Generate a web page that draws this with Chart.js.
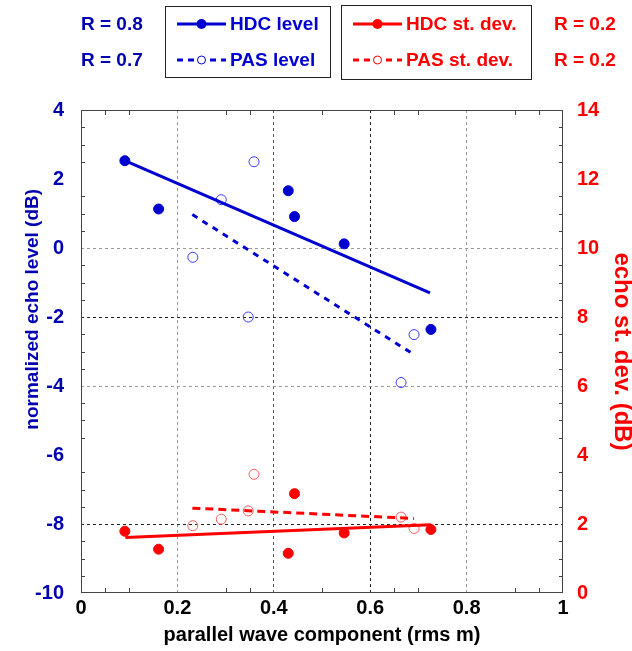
<!DOCTYPE html>
<html>
<head>
<meta charset="utf-8">
<script src="https://cdn.jsdelivr.net/npm/chart.js@4.4.1/dist/chart.umd.min.js"></script>
<style>
  html, body { margin: 0; padding: 0; background: #fff; }
  #wrap { width: 632px; height: 651px; }
</style>
</head>
<body>
<div id="wrap"><canvas id="chart" width="632" height="651"></canvas></div>
<script>
// HDC measurements
const hdcX = [0.091, 0.161, 0.430, 0.443, 0.546, 0.726];
const hdcLevel = [2.53, 1.13, 1.66, 0.91, 0.12, -2.36];
const hdcStdDev = [1.79, 1.27, 1.15, 2.88, 1.74, 1.84];

// PAS measurements
const pasX = [0.359, 0.291, 0.232, 0.347, 0.691, 0.664];
const pasLevel = [2.50, 1.40, -0.27, -2.00, -2.51, -3.90];
const pasStdDev = [3.44, 2.14, 1.95, 2.38, 1.87, 2.20];

// regression line end points
const hdcLevelFitX = [0.091, 0.724];
const hdcLevelFitY = [2.53, -1.30];
const pasLevelFitX = [0.231, 0.691];
const pasLevelFitY = [0.97, -3.09];
const hdcSdFitX = [0.092, 0.726];
const hdcSdFitY = [1.61, 1.98];
const pasSdFitX = [0.231, 0.691];
const pasSdFitY = [2.46, 2.16];

// legend / correlation labels
const levelLabels = ['HDC level', 'PAS level'];
const sdLabels = ['HDC st. dev.', 'PAS st. dev.'];
const levelR = ['R = 0.8', 'R = 0.7'];
const sdR = ['R = 0.2', 'R = 0.2'];

const BLUE = '#0000d0';
const RED = '#ff0000';
const FONT = "'Liberation Sans', Arial, sans-serif";

const pts = (xs, ys) => xs.map((x, i) => ({ x: x, y: ys[i] }));

function lineSet(xs, ys, color, dash, axis) {
    return {
        data: pts(xs, ys), yAxisID: axis, showLine: true,
        borderColor: color, borderWidth: 3, borderDash: dash,
        pointRadius: 0, fill: false
    };
}

function markerSet(xs, ys, color, filled, axis) {
    return {
        data: pts(xs, ys), yAxisID: axis, showLine: false,
        pointRadius: 5, pointBorderWidth: 1,
        pointBackgroundColor: filled ? color : 'rgba(0,0,0,0)',
        pointBorderColor: filled ? color : (color === BLUE ? '#3a3aff' : '#ff5a5a'),
        pointHoverRadius: 5
    };
}

// gridline colour per value; other values get no line
function xGrid(ctx) {
    const v = Math.round(ctx.tick.value * 10) / 10;
    if (v === 0.6) return '#222';
    if (v === 0.4) return '#555';
    if (v === 0.2 || v === 0.8) return '#999';
    return 'rgba(0,0,0,0)';
}
function yGrid(ctx) {
    const v = ctx.tick.value;
    if (v === -2 || v === -8) return '#222';
    if (v === 0 || v === -4) return '#999';
    return 'rgba(0,0,0,0)';
}

const frame = {
    id: 'frame',
    afterDraw(chart) {
        const c = chart.ctx;
        const a = chart.chartArea;
        const sx = chart.scales.x, sy = chart.scales.y;
        c.save();
        c.strokeStyle = '#444';
        c.lineWidth = 1;
        c.strokeRect(a.left + 0.5, a.top + 0.5, a.right - a.left - 1, a.bottom - a.top - 1);

        // inward minor ticks
        c.beginPath();
        for (let v = -9.5; v < 4; v += 0.5) {
            if (Math.abs(v % 2) < 0.01) continue;
            const py = Math.round(sy.getPixelForValue(v)) + 0.5;
            c.moveTo(a.left, py); c.lineTo(a.left + 4, py);
            c.moveTo(a.right, py); c.lineTo(a.right - 4, py);
        }
        for (let v = 0.05; v < 1; v += 0.05) {
            const r = Math.round(v * 100);
            if (r % 20 === 0) continue;
            if (r % 10 !== 0 && r !== 5 && r !== 35 && r !== 65 && r !== 95) continue;
            const px = Math.round(sx.getPixelForValue(v)) + 0.5;
            c.moveTo(px, a.top); c.lineTo(px, a.top + 5);
            c.moveTo(px, a.bottom); c.lineTo(px, a.bottom - 5);
        }
        c.stroke();

        // legend boxes
        c.strokeStyle = '#222';
        c.strokeRect(165.5, 6.5, 165, 71);
        c.strokeRect(341.5, 5.5, 190, 74);

        const rows = [24, 60];
        const drawEntry = (x0, y, color, dashed, filled, label) => {
            c.strokeStyle = color;
            c.lineWidth = 3;
            c.setLineDash(dashed ? [6, 5] : []);
            c.beginPath(); c.moveTo(x0, y); c.lineTo(x0 + 49, y); c.stroke();
            c.setLineDash([]);
            c.beginPath();
            c.arc(x0 + 24.5, y, filled ? 5 : 4, 0, Math.PI * 2);
            if (filled) { c.fillStyle = color; c.fill(); }
            else { c.lineWidth = 1; c.fillStyle = '#fff'; c.fill(); c.stroke(); }
            c.fillStyle = color;
            c.font = 'bold 19px ' + FONT;
            c.textBaseline = 'middle';
            c.textAlign = 'left';
            c.fillText(label, x0 + 53, y + 1);
        };
        levelLabels.forEach((t, i) => drawEntry(177, rows[i], BLUE, i === 1, i === 0, t));
        sdLabels.forEach((t, i) => drawEntry(353, rows[i], RED, i === 1, i === 0, t));

        c.font = 'bold 19px ' + FONT;
        c.textBaseline = 'middle';
        c.fillStyle = '#0000b0';
        levelR.forEach((t, i) => c.fillText(t, 81, rows[i] + 1));
        c.fillStyle = RED;
        sdR.forEach((t, i) => c.fillText(t, 554, rows[i] + 1));
        c.restore();
    }
};

new Chart(document.getElementById('chart'), {
    type: 'scatter',
    data: {
        datasets: [
            lineSet(hdcLevelFitX, hdcLevelFitY, BLUE, [], 'y'),
            lineSet(pasLevelFitX, pasLevelFitY, BLUE, [6, 6], 'y'),
            lineSet(hdcSdFitX, hdcSdFitY, RED, [], 'y2'),
            lineSet(pasSdFitX, pasSdFitY, RED, [8, 5], 'y2'),
            markerSet(hdcX, hdcLevel, BLUE, true, 'y'),
            markerSet(pasX, pasLevel, BLUE, false, 'y'),
            markerSet(hdcX, hdcStdDev, RED, true, 'y2'),
            markerSet(pasX, pasStdDev, RED, false, 'y2')
        ]
    },
    options: {
        responsive: false,
        animation: false,
        layout: { padding: { top: 110, left: 0, right: 0, bottom: 0 } },
        plugins: { legend: { display: false }, tooltip: { enabled: false } },
        scales: {
            x: {
                type: 'linear', min: 0, max: 1,
                afterFit: s => { s.height = 58; },
                ticks: {
                    stepSize: 0.2, padding: 3, color: '#000',
                    font: { family: FONT, size: 20, weight: 'bold' },
                    callback: v => (Math.round(v * 10) / 10).toString()
                },
                grid: { color: xGrid, lineWidth: 1, drawTicks: false },
                border: { display: false, dash: [3, 3] },
                title: {
                    display: true, text: 'parallel wave component (rms m)', color: '#000',
                    font: { family: FONT, size: 20, weight: 'bold' },
                    padding: { top: 0, bottom: 4 }
                }
            },
            y: {
                position: 'left', min: -10, max: 4,
                afterFit: s => { s.width = 81; },
                ticks: {
                    stepSize: 2, padding: 17, color: '#0000b0',
                    font: { family: FONT, size: 20, weight: 'bold' }
                },
                grid: { color: yGrid, lineWidth: 1, drawTicks: false },
                border: { display: false, dash: [3, 3] },
                title: {
                    display: true,
                    text: '\u00a0'.repeat(16) + 'normalized echo level (dB)',
                    color: '#0000b0',
                    font: { family: FONT, size: 19, weight: 'bold' },
                    padding: { top: 21, bottom: 0 }
                }
            },
            y2: {
                position: 'right', min: 0, max: 14,
                afterFit: s => { s.width = 69; },
                ticks: {
                    stepSize: 2, padding: 14, color: RED,
                    font: { family: FONT, size: 20, weight: 'bold' }
                },
                grid: { drawOnChartArea: false, drawTicks: false },
                border: { display: false },
                title: {
                    display: true, text: 'echo st. dev. (dB)', color: RED,
                    font: { family: FONT, size: 24, weight: 'bold' },
                    padding: { top: -4, bottom: 0 }
                }
            }
        }
    },
    plugins: [frame]
});
</script>
</body>
</html>
